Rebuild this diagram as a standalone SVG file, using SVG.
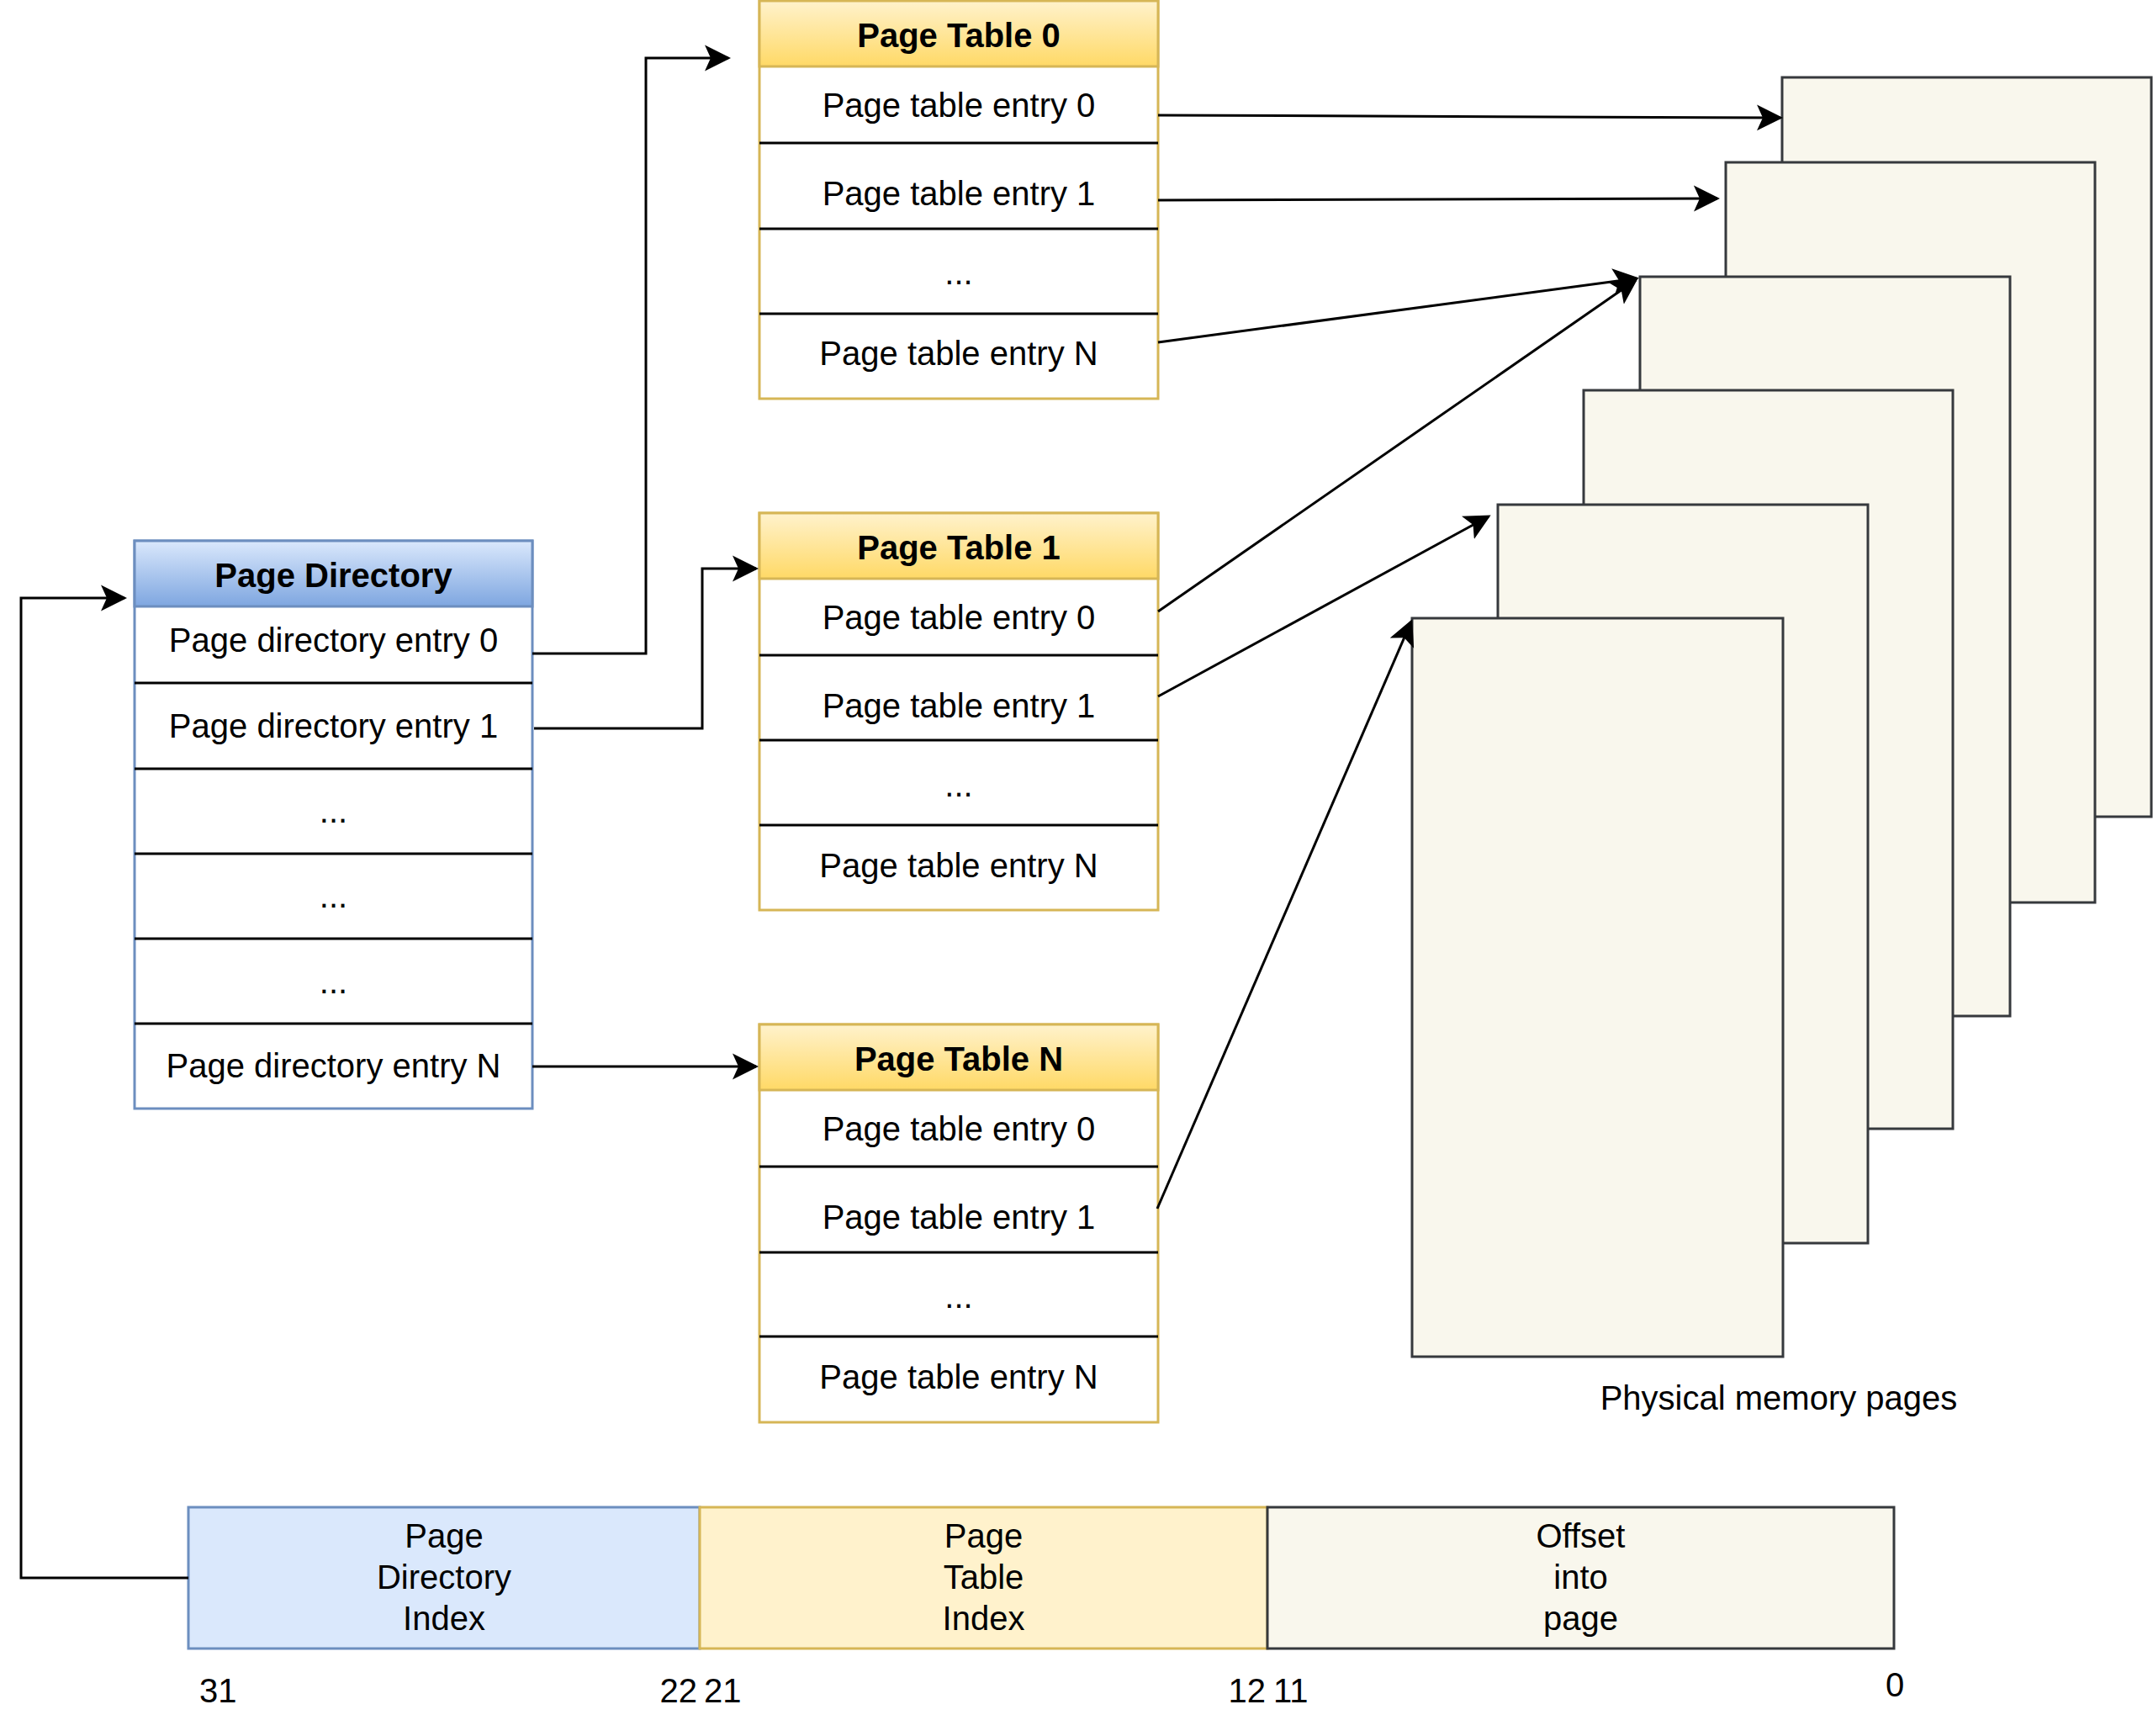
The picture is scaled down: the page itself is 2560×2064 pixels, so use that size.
<svg xmlns="http://www.w3.org/2000/svg" width="2560" height="2064" viewBox="0 0 2560 2064">
  <defs>
    <linearGradient id="gBlue" x1="0" y1="0" x2="0" y2="1">
      <stop offset="0" stop-color="#dae8fc"/>
      <stop offset="1" stop-color="#7ea6e0"/>
    </linearGradient>
    <linearGradient id="gYellow" x1="0" y1="0" x2="0" y2="1">
      <stop offset="0" stop-color="#fff2cc"/>
      <stop offset="1" stop-color="#ffd966"/>
    </linearGradient>
    <marker id="arrow" markerUnits="userSpaceOnUse" viewBox="0 0 32 32" refX="28" refY="16" markerWidth="32" markerHeight="32" orient="auto">
      <path d="M0,0.5 L31,16 L0,31.5 L7,16 Z" fill="#000"/>
    </marker>
    <style>
      text { font-family: "Liberation Sans", Arial, Helvetica, sans-serif; font-size: 40px; fill: #000; }
      .c { text-anchor: middle; }
      .b { font-weight: bold; }
      .pd { fill: #ffffff; stroke: #6c8ebf; stroke-width: 3; }
      .pdh { fill: url(#gBlue); stroke: #6c8ebf; stroke-width: 3; }
      .pt { fill: #ffffff; stroke: #d6b656; stroke-width: 3; }
      .pth { fill: url(#gYellow); stroke: #d6b656; stroke-width: 3; }
      .sep { stroke: #000; stroke-width: 3; }
      .page { fill: #f9f7ed; stroke: #36393d; stroke-width: 3; }
      .blue { fill: #dae8fc; stroke: #6c8ebf; stroke-width: 3; }
      .yel { fill: #fff2cc; stroke: #d6b656; stroke-width: 3; }
      .gray { fill: #f9f7ed; stroke: #36393d; stroke-width: 3; }
      .conn { fill: none; stroke: #000; stroke-width: 3; marker-end: url(#arrow); }
    </style>
  </defs>
  <rect width="2560" height="2064" fill="#ffffff"/>

  <!-- Page Directory -->
  <g id="page-directory">
    <rect class="pd" x="160" y="643" width="473" height="675"/>
    <rect class="pdh" x="160" y="643" width="473" height="78"/>
    <line class="sep" x1="160" y1="812" x2="633" y2="812"/>
    <line class="sep" x1="160" y1="914" x2="633" y2="914"/>
    <line class="sep" x1="160" y1="1015" x2="633" y2="1015"/>
    <line class="sep" x1="160" y1="1116" x2="633" y2="1116"/>
    <line class="sep" x1="160" y1="1217" x2="633" y2="1217"/>
    <text class="c b" x="396.5" y="698">Page Directory</text>
    <text class="c" x="396.5" y="775">Page directory entry 0</text>
    <text class="c" x="396.5" y="877">Page directory entry 1</text>
    <text class="c" x="396.5" y="978">...</text>
    <text class="c" x="396.5" y="1079">...</text>
    <text class="c" x="396.5" y="1181">...</text>
    <text class="c" x="396.5" y="1281">Page directory entry N</text>
  </g>

  <!-- Page Table 0 -->
  <g id="page-table-0">
    <rect class="pt" x="903" y="1" width="474" height="473"/>
    <rect class="pth" x="903" y="1" width="474" height="78"/>
    <line class="sep" x1="903" y1="170" x2="1377" y2="170"/>
    <line class="sep" x1="903" y1="272" x2="1377" y2="272"/>
    <line class="sep" x1="903" y1="373" x2="1377" y2="373"/>
    <text class="c b" x="1140" y="56">Page Table 0</text>
    <text class="c" x="1140" y="139">Page table entry 0</text>
    <text class="c" x="1140" y="244">Page table entry 1</text>
    <text class="c" x="1140" y="338">...</text>
    <text class="c" x="1140" y="434">Page table entry N</text>
  </g>

  <!-- Page Table 1 -->
  <g id="page-table-1">
    <rect class="pt" x="903" y="610" width="474" height="472"/>
    <rect class="pth" x="903" y="610" width="474" height="78"/>
    <line class="sep" x1="903" y1="779" x2="1377" y2="779"/>
    <line class="sep" x1="903" y1="880" x2="1377" y2="880"/>
    <line class="sep" x1="903" y1="981" x2="1377" y2="981"/>
    <text class="c b" x="1140" y="665">Page Table 1</text>
    <text class="c" x="1140" y="748">Page table entry 0</text>
    <text class="c" x="1140" y="853">Page table entry 1</text>
    <text class="c" x="1140" y="947">...</text>
    <text class="c" x="1140" y="1043">Page table entry N</text>
  </g>

  <!-- Page Table N -->
  <g id="page-table-n">
    <rect class="pt" x="903" y="1218" width="474" height="473"/>
    <rect class="pth" x="903" y="1218" width="474" height="78"/>
    <line class="sep" x1="903" y1="1387" x2="1377" y2="1387"/>
    <line class="sep" x1="903" y1="1489" x2="1377" y2="1489"/>
    <line class="sep" x1="903" y1="1589" x2="1377" y2="1589"/>
    <text class="c b" x="1140" y="1273">Page Table N</text>
    <text class="c" x="1140" y="1356">Page table entry 0</text>
    <text class="c" x="1140" y="1461">Page table entry 1</text>
    <text class="c" x="1140" y="1555">...</text>
    <text class="c" x="1140" y="1651">Page table entry N</text>
  </g>

  <!-- Physical memory pages -->
  <g id="physical-pages">
    <rect class="page" x="2119" y="92" width="439" height="879"/>
    <rect class="page" x="2052" y="193" width="439" height="880"/>
    <rect class="page" x="1950" y="329" width="440" height="879"/>
    <rect class="page" x="1883" y="464" width="439" height="878"/>
    <rect class="page" x="1781" y="600" width="440" height="878"/>
    <rect class="page" x="1679" y="735" width="441" height="878"/>
  </g>
  <g id="physical-pages-label">
    <text class="c" x="2115" y="1676">Physical memory pages</text>
  </g>

  <!-- Linear address -->
  <g id="page-directory-index">
    <rect class="blue" x="224" y="1792" width="608" height="168"/>
    <text class="c" x="528" y="1840">Page</text>
    <text class="c" x="528" y="1889">Directory</text>
    <text class="c" x="528" y="1938">Index</text>
  </g>
  <g id="page-table-index">
    <rect class="yel" x="832" y="1792" width="675" height="168"/>
    <text class="c" x="1169.5" y="1840">Page</text>
    <text class="c" x="1169.5" y="1889">Table</text>
    <text class="c" x="1169.5" y="1938">Index</text>
  </g>
  <g id="offset-into-page">
    <rect class="gray" x="1507" y="1792" width="745" height="168"/>
    <text class="c" x="1879.5" y="1840">Offset</text>
    <text class="c" x="1879.5" y="1889">into</text>
    <text class="c" x="1879.5" y="1938">page</text>
  </g>
  <g id="bit-labels">
    <text x="237" y="2024">31</text>
    <text x="829" y="2024" text-anchor="end">22</text>
    <text x="837" y="2024">21</text>
    <text x="1505" y="2024" text-anchor="end">12</text>
    <text x="1514" y="2024">11</text>
    <text x="2242" y="2017">0</text>
  </g>

  <!-- Connectors -->
  <g id="connectors">
    <path class="conn" d="M224,1876 H25 V711 H148"/>
    <path class="conn" d="M633,777 H768 V69 H866"/>
    <path class="conn" d="M635,866 H835 V676 H899"/>
    <path class="conn" d="M633,1268 H899"/>
    <path class="conn" d="M1377,137 L2117,140"/>
    <path class="conn" d="M1377,238 L2042,236"/>
    <path class="conn" d="M1377,407 L1946,331"/>
    <path class="conn" d="M1377,727 L1945,333"/>
    <path class="conn" d="M1377,828 L1770,614"/>
    <path class="conn" d="M1376,1437 L1678,739"/>
  </g>
</svg>
